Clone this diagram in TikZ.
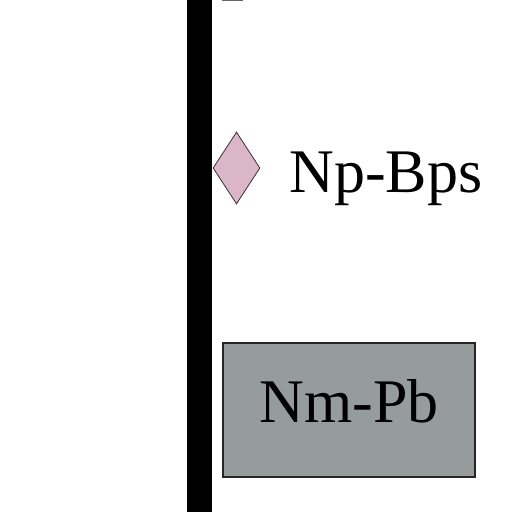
\documentclass[tikz,border=0pt]{standalone}
\usepackage{fontspec}
\setmainfont{Liberation Serif}
\usetikzlibrary{shapes.geometric}
\definecolor{diapink}{RGB}{218,182,200}
\definecolor{boxgray}{RGB}{150,156,156}
\tikzset{
  px/.style={x=1pt,y=-1pt},
  lbl/.style={font=\fontsize{62}{62}\selectfont, text=black, inner sep=0pt, anchor=base},
  diam/.style={diamond, draw=black!80, line width=0.8pt, fill=diapink, minimum width=47pt, minimum height=72pt, aspect=0.65, inner sep=0pt},
  gbox/.style={draw=black!85, line width=1.2pt, fill=boxgray, minimum width=252pt, minimum height=134pt, inner sep=0pt}
}
\begin{document}
\begin{tikzpicture}[px]
\useasboundingbox (0,0) rectangle (512,512);
\fill[white] (0,0) rectangle (512,512);
% black bar
\fill[black] (187,0) rectangle (212,512);
% small cut-off piece at top
\draw[black!60, line width=1.5pt] (222,0.5) -- (243,0.5);
% diamond
\node[diam] (d) at (236.5,168) {};
\node[lbl] (t1) at (386,192) {Np-Bps};
% gray box
\node[gbox] (b) at (349,410) {};
\node[lbl] (t2) at (349,422) {Nm-Pb};
\end{tikzpicture}
\end{document}
